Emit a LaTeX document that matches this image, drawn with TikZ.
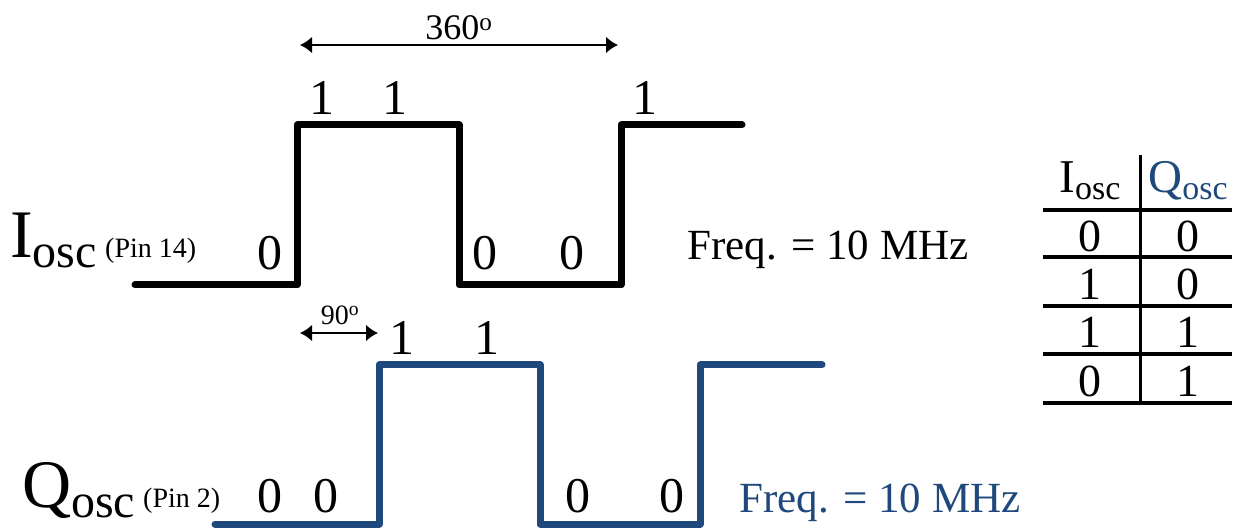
\documentclass[tikz,border=0pt]{standalone}
\usepackage{fontspec}
\setmainfont{Liberation Serif}
\usetikzlibrary{arrows, arrows.meta, positioning, calc}
\definecolor{qoscblue}{RGB}{31, 73, 125}

\tikzset{
  wave/.style={line width=7pt, line cap=round, line join=round},
  bit/.style={anchor=base, inner sep=0pt, font=\fontsize{50}{60}\selectfont},
  tbit/.style={anchor=base, inner sep=0pt, font=\fontsize{46}{55}\selectfont},
  freq/.style={anchor=base, inner sep=0pt, font=\fontsize{43}{50}\selectfont},
  pin/.style={anchor=base west, inner sep=0pt, font=\fontsize{28}{32}\selectfont},
  span/.style={arrows={Latex[length=12pt,width=17pt]-Latex[length=12pt,width=17pt]}, line width=2.5pt},
  rule/.style={line width=3.5pt}
}
% big letter + lowered "osc"
\newcommand{\oscname}[4]{{\fontsize{#1}{#1}\selectfont #3}\raisebox{-#4pt}{\fontsize{#2}{#2}\selectfont osc}}

\begin{document}
\begin{tikzpicture}[x=1pt, y=-1pt]
    \useasboundingbox (0,0) rectangle (1248,529);

    % I oscillator
    \draw[wave] (135,285) -- (297,285) -- (297,125) -- (459,125) -- (459,285)
        -- (621,285) -- (621,125) -- (742,125);
    \node[anchor=base west, inner sep=0pt] (ilabel) at (10,258) {\oscname{68}{48}{I}{10}};
    \node[pin] (ipin) at (105,258) {(Pin 14)};
    \node[bit] (i0a) at (270,270) {0};
    \node[bit] (i1a) at (322,115) {1};
    \node[bit] (i1b) at (395,115) {1};
    \node[bit] (i0b) at (485,270) {0};
    \node[bit] (i0c) at (572,270) {0};
    \node[bit] (i1c) at (645,115) {1};
    \node[freq] (ifreq) at (828,260) {Freq. = 10 MHz};

    % period and phase shift
    \coordinate (p0) at (300,45);
    \coordinate (p1) at (618,45);
    \draw[span] (p0) -- (p1);
    \node[anchor=base, inner sep=0pt, font=\fontsize{36}{40}\selectfont] (period) at (459,40) {360\textsuperscript{o}};
    \coordinate (s0) at (300,333);
    \coordinate (s1) at (378,333);
    \draw[span] (s0) -- (s1);
    \node[anchor=base, inner sep=0pt, font=\fontsize{28}{32}\selectfont] (shift) at (340,325) {90\textsuperscript{o}};

    % Q oscillator
    \draw[wave, qoscblue] (215,524) -- (379,524) -- (379,365) -- (540,365) -- (540,524)
        -- (700,524) -- (700,365) -- (822,365);
    \node[anchor=base west, inner sep=0pt] (qlabel) at (22,507) {\oscname{68}{48}{Q}{10}};
    \node[pin] (qpin) at (143,507) {(Pin 2)};
    \node[bit] (q0a) at (270,512) {0};
    \node[bit] (q0b) at (326,512) {0};
    \node[bit] (q1a) at (402,355) {1};
    \node[bit] (q1b) at (487,355) {1};
    \node[bit] (q0c) at (578,512) {0};
    \node[bit] (q0d) at (672,512) {0};
    \node[freq, text=qoscblue] (qfreq) at (880,512) {Freq. = 10 MHz};

    % truth table
    \draw[line width=3pt] (1140,155) -- (1140,403);
    \foreach \y in {210,257,306,354,403}
        \draw[rule] (1043,\y) -- (1232,\y);
    \node[anchor=base, inner sep=0pt] (hi) at (1090,193) {\oscname{47}{34}{I}{7}};
    \node[anchor=base, inner sep=0pt, text=qoscblue] (hq) at (1188,193) {\oscname{47}{34}{Q}{7}};
    \foreach \a/\b [count=\r] in {0/0,1/0,1/1,0/1} {
        \node[tbit] (ti\r) at (1090,204+48*\r) {\a};
        \node[tbit] (tq\r) at (1188,204+48*\r) {\b};
    }
\end{tikzpicture}
\end{document}
